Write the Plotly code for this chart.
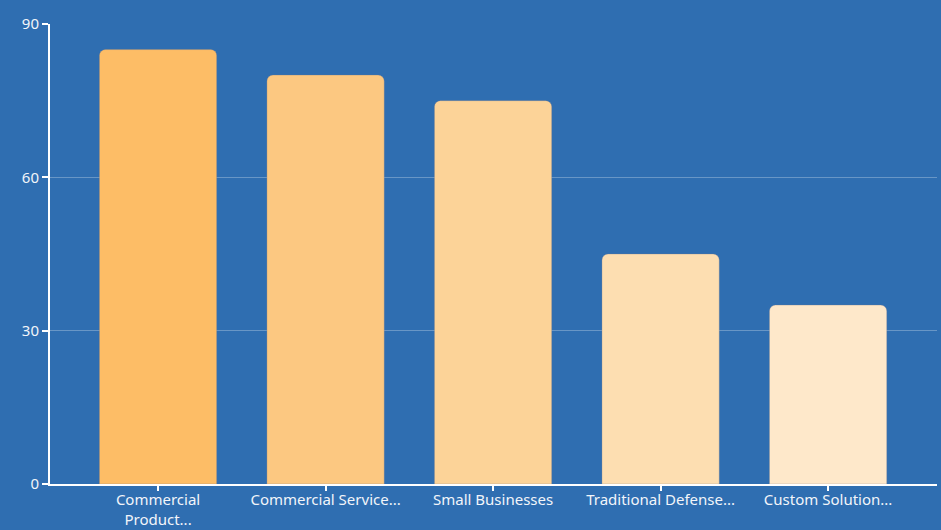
import plotly.graph_objects as go

categories = ["Commercial<br>Product...", "Commercial Service...", "Small Businesses",
              "Traditional Defense...", "Custom Solution..."]
values = [85, 80, 75, 45, 35]
bar_colors = ["#fdbd66", "#fcc881", "#fcd398", "#fddeb1", "#fee8ca"]
y_ticks = [0, 30, 60, 90]

fig = go.Figure(go.Bar(
    x=list(range(len(categories))), y=values,
    marker=dict(color=bar_colors, line=dict(width=0.6, color="rgba(120,120,140,0.5)")),
    width=0.7,
))
fig.update_layout(
    width=941, height=530,
    margin=dict(l=50, r=4, t=24, b=46),
    paper_bgcolor="#2f6eb1", plot_bgcolor="#2f6eb1",
    barcornerradius=6,
    font=dict(family="Noto Sans", size=15, color="#f2f5fa"),
    showlegend=False,
)
fig.update_xaxes(
    tickmode="array", tickvals=list(range(len(categories))), ticktext=categories,
    range=[-0.645, 4.65], automargin=False,
    showline=True, linecolor="white", linewidth=2,
    ticks="outside", ticklen=5, tickcolor="white", tickwidth=2,
    ticklabelstandoff=-4,
    showgrid=False, zeroline=False,
)
fig.update_yaxes(
    range=[0, 90], tickvals=y_ticks, automargin=False,
    showline=True, linecolor="white", linewidth=2,
    ticks="outside", ticklen=6, tickcolor="white", tickwidth=2,
    showgrid=True, gridcolor="rgba(255,255,255,0.28)", gridwidth=1,
    zeroline=False,
)
fig.write_html("out.html")
